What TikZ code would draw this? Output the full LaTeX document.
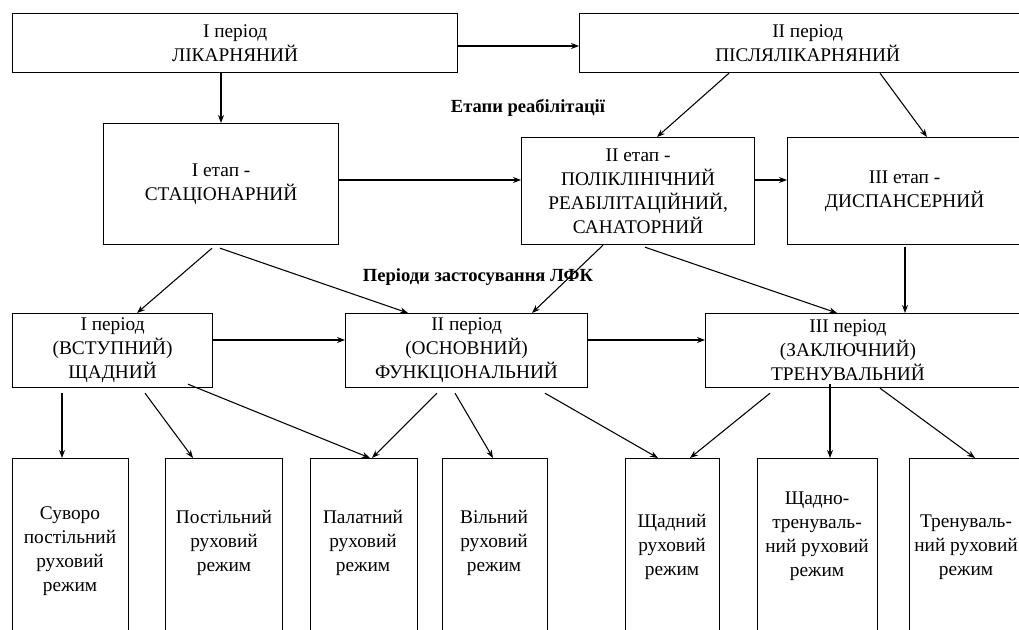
\documentclass[tikz,border=0pt]{standalone}
\usepackage{fontspec}
\setmainfont{Liberation Serif}
\usetikzlibrary{calc,arrows.meta}
\newcommand\txtsize{\fontsize{14.5}{18}\selectfont}
\newcommand\lblsize{\fontsize{13.9}{18}\selectfont}
\tikzset{
  bx/.style n args={2}{draw, line width=0.9pt, anchor=north west, inner sep=0pt,
    align=center, font=\txtsize, minimum width={#1*0.75pt}, minimum height={#2*0.75pt}},
  txt/.style={align=center, inner sep=0pt, font=\txtsize},
  lbl/.style={inner sep=0pt, font=\lblsize\bfseries},
  arr/.style={line width=0.8pt, -{Stealth[length=6pt,width=4.5pt]}}
}
\begin{document}
\begin{tikzpicture}[x=0.75pt,y=-0.75pt]
\useasboundingbox (0,0) rectangle (1019,630);
\fill[white] (0,0) rectangle (1019,630);
\clip (0,0) rectangle (1019,630);

% top row
\node[bx={445}{59}] (A) at (12,13) {I період\\ЛІКАРНЯНИЙ};
\node[bx={456}{59}] (B) at (579,13) {II період\\ПІСЛЯЛІКАРНЯНИЙ};

% stages
\node[bx={235}{121}] (C) at (103,123) {I етап -\\СТАЦІОНАРНИЙ};
\node[bx={233}{107}] (D) at (521,137) {II етап -\\ПОЛІКЛІНІЧНИЙ\\РЕАБІЛІТАЦІЙНИЙ,\\САНАТОРНИЙ};
\node[bx={234}{107}] (E) at (787,137) {III етап -\\ДИСПАНСЕРНИЙ};

\node[lbl] (L1) at (528,108) {Етапи реабілітації};
\node[lbl] (L2) at (478,277) {Періоди застосування ЛФК};

% periods
\node[bx={200}{74}] (F) at (12,313) {I період\\(ВСТУПНИЙ)\\ЩАДНИЙ};
\node[bx={242}{74}] (G) at (345,313) {II період\\(ОСНОВНИЙ)\\ФУНКЦІОНАЛЬНИЙ};
\node[bx={330}{74}] (H) at (705,313) {};
\node[txt] (Ht) at (848,350) {III період\\(ЗАКЛЮЧНИЙ)\\ТРЕНУВАЛЬНИЙ};

% regimes
\node[bx={116}{190}] (R1) at (12,458) {};
\node[bx={117}{190}] (R2) at (165,458) {};
\node[bx={107}{190}] (R3) at (310,458) {};
\node[bx={105}{190}] (R4) at (442,458) {};
\node[bx={94}{190}]  (R5) at (625,458) {};
\node[bx={120}{190}] (R6) at (757,458) {};
\node[bx={122}{190}] (R7) at (909,458) {};

\node[txt] (T1) at (70,551) {Суворо\\постільний\\руховий\\режим};
\node[txt] (T2) at (224,543) {Постільний\\руховий\\режим};
\node[txt] (T3) at (363,543) {Палатний\\руховий\\режим};
\node[txt] (T4) at (494,543) {Вільний\\руховий\\режим};
\node[txt] (T5) at (672,547) {Щадний\\руховий\\режим};
\node[txt] (T6) at (817,536) {Щадно-\\тренуваль-\\ний руховий\\режим};
\node[txt] (T7) at (966,547) {Тренуваль-\\ний руховий\\режим};

% connectors
\draw[arr] ($(A.north east)+(0,33)$) -- ($(B.north west)+(0,33)$);
\draw[arr] ($(A.south west)+(209,0)$) -- ($(C.north west)+(118,0)$);
\draw[arr] ($(B.south west)+(150,0)$) -- ($(D.north west)+(136,0)$);
\draw[arr] ($(B.south west)+(301,0)$) -- ($(E.north west)+(140,0)$);
\draw[arr] ($(C.north east)+(0,57)$) -- ($(D.north west)+(0,43)$);
\draw[arr] ($(D.north east)+(0,43)$) -- ($(E.north west)+(0,43)$);
\draw[arr] ($(C.south west)+(109,3)$) -- ($(F.north west)+(125,0)$);
\draw[arr] ($(C.south west)+(117,3)$) -- ($(G.north west)+(63,0)$);
\draw[arr] ($(D.south west)+(82,0)$) -- ($(G.north west)+(187,0)$);
\draw[arr] ($(D.south west)+(124,2)$) -- ($(H.north west)+(132,0)$);
\draw[arr] ($(E.south west)+(118,2)$) -- ($(H.north west)+(200,0)$);
\draw[arr] ($(F.north east)+(0,27)$) -- ($(G.north west)+(0,27)$);
\draw[arr] ($(G.north east)+(0,27)$) -- ($(H.north west)+(0,27)$);
\draw[arr] ($(F.south west)+(50,5)$) -- ($(R1.north west)+(50,0)$);
\draw[arr] ($(F.south west)+(133,5)$) -- ($(R2.north west)+(28,0)$);
\draw[arr] ($(F.south west)+(176,-4)$) -- ($(R3.north west)+(60,0)$);
\draw[arr] ($(G.south west)+(92,5)$) -- ($(R3.north west)+(62,0)$);
\draw[arr] ($(G.south west)+(110,5)$) -- ($(R4.north west)+(51,0)$);
\draw[arr] ($(G.south west)+(200,5)$) -- ($(R5.north west)+(33,0)$);
\draw[arr] ($(H.south west)+(65,5)$) -- ($(R5.north west)+(65,0)$);
\draw[arr] ($(H.south west)+(125,-4)$) -- ($(R6.north west)+(73,0)$);
\draw[arr] ($(H.south west)+(175,0)$) -- ($(R7.north west)+(66,0)$);
\end{tikzpicture}
\end{document}
